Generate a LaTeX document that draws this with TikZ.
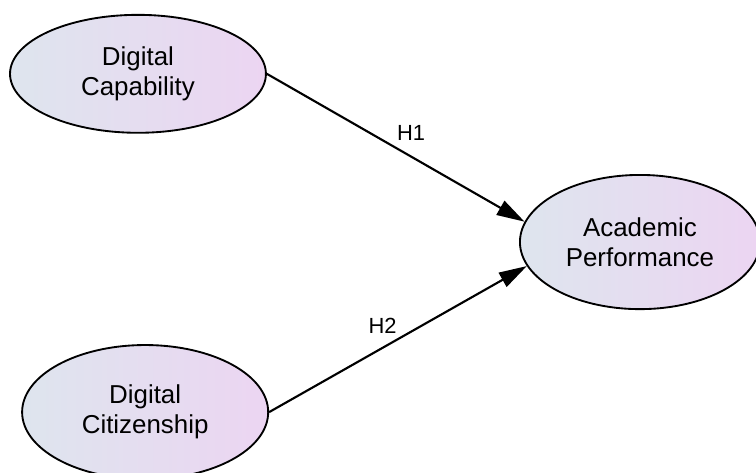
\documentclass[tikz,border=0pt]{standalone}
\usepackage{fontspec}
\setmainfont{Liberation Sans}
\usepackage{xcolor}
\usepackage{tikz}
\usetikzlibrary{calc, positioning, arrows.meta, shapes.geometric}
\definecolor{fillLeft}{RGB}{222,229,238}
\definecolor{fillRight}{RGB}{236,213,242}
\tikzset{
    construct/.style={ellipse, draw=black, line width=1.4pt, left color=fillLeft, right color=fillRight, align=center, font=\fontsize{19.5}{22.5}\selectfont, inner sep=0pt},
    arrow/.style={-{Triangle[length=21pt, width=12pt]}, line width=1.6pt},
    hyp/.style={font=\fontsize{16.5}{19}\selectfont, inner sep=2pt}
}

\begin{document}
\begin{tikzpicture}
    \useasboundingbox (0,0) rectangle (20,12.513);

    \node[construct, minimum width=6.77cm, minimum height=3.12cm] (cap) at (3.65, 10.56) {Digital\\Capability};
    \node[construct, minimum width=6.35cm, minimum height=3.55cm] (acad) at (16.93, 6.11) {Academic\\Performance};
    \node[construct, minimum width=6.51cm, minimum height=3.55cm] (cit) at (3.84, 1.61) {Digital\\Citizenship};

    % hypothesised paths
    \draw[arrow] (cap.east) -- node[hyp, pos=0.56, above=9pt] (h1) {H1} (acad.170);
    \draw[arrow] (cit.east) -- node[hyp, pos=0.44, above=8pt] (h2) {H2} (acad.192);
\end{tikzpicture}
\end{document}
